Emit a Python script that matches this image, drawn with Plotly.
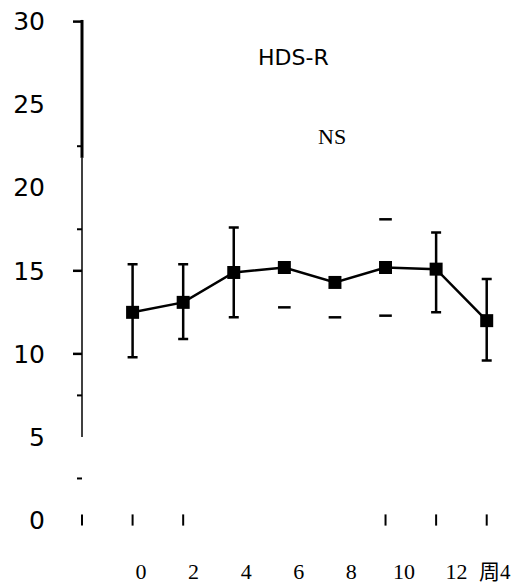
import plotly.graph_objects as go

# ---- data ----
weeks = [0, 2, 4, 6, 8, 10, 12, 14]
mean_score = [12.5, 13.1, 14.9, 15.2, 14.3, 15.2, 15.1, 12.0]
upper_sd = [15.4, 15.4, 17.6, 17.6, 16.4, 18.1, 17.3, 14.5]
lower_sd = [9.8, 10.9, 12.2, 12.8, 12.2, 12.3, 12.5, 9.6]
# which error bars survive as full bars in the scanned figure
full_bar = [True, True, True, False, False, False, True, True]
# which isolated whisker caps are visible for the faded bars
upper_cap_visible = [False, False, False, False, False, True, False, False]
lower_cap_visible = [False, False, False, True, True, True, False, False]

# tick labels as printed ("周" overprints the "1" of 14)
x_tick_labels = ["0", "2", "4", "6", "8", "10", "12", "周4"]
y_tick_vals = [0, 5, 10, 15, 20, 25, 30]
x_tick_marks = [-2, 0, 2, 10, 12, 14]
y_axis_ticks_long = [30, 15, 10]
y_axis_ticks_short = [22.5, 17.5, 7.5, 2.5]

title_text = "HDS-R"
sig_text = "NS"

fig = go.Figure()

# full error bars
fx = [w for w, f in zip(weeks, full_bar) if f]
fy = [m for m, f in zip(mean_score, full_bar) if f]
fu = [u - m for u, m, f in zip(upper_sd, mean_score, full_bar) if f]
fl = [m - l for l, m, f in zip(lower_sd, mean_score, full_bar) if f]
fig.add_trace(go.Scatter(
    x=fx, y=fy, mode="markers",
    marker=dict(size=1, color="rgba(0,0,0,0)"),
    error_y=dict(type="data", symmetric=False, array=fu, arrayminus=fl,
                 color="black", thickness=2.5, width=5),
    showlegend=False, hoverinfo="skip"))

# isolated caps
cx = [w for w, v in zip(weeks, upper_cap_visible) if v] + [w for w, v in zip(weeks, lower_cap_visible) if v]
cy = [u for u, v in zip(upper_sd, upper_cap_visible) if v] + [l for l, v in zip(lower_sd, lower_cap_visible) if v]
fig.add_trace(go.Scatter(
    x=cx, y=cy, mode="markers",
    marker=dict(symbol="line-ew", size=9, line=dict(color="black", width=2.5)),
    showlegend=False, hoverinfo="skip"))

# mean line
fig.add_trace(go.Scatter(
    x=weeks, y=mean_score, mode="lines+markers",
    line=dict(color="black", width=2.5),
    marker=dict(symbol="square", size=13, color="black"),
    showlegend=False))

# small x-axis tick marks at baseline
fig.add_trace(go.Scatter(
    x=x_tick_marks, y=[0] * len(x_tick_marks), mode="markers",
    marker=dict(symbol="line-ns", size=8, line=dict(color="black", width=2)),
    cliponaxis=False, showlegend=False, hoverinfo="skip"))

# tick-label axis
fig.add_trace(go.Scatter(x=weeks, y=mean_score, xaxis="x2", mode="markers",
                         marker=dict(size=1, color="rgba(0,0,0,0)"),
                         showlegend=False, hoverinfo="skip"))

shapes = []
# y axis line (thick top part, thin lower part)
shapes.append(dict(type="line", xref="paper", yref="y", x0=0, x1=0, y0=21.8, y1=30.1,
                   line=dict(color="black", width=3)))
shapes.append(dict(type="line", xref="paper", yref="y", x0=0, x1=0, y0=5, y1=21.8,
                   line=dict(color="black", width=1.5)))
for v in y_axis_ticks_long:
    shapes.append(dict(type="line", xref="paper", yref="y", xsizemode="pixel", xanchor=0,
                       x0=-9, x1=0, y0=v, y1=v, line=dict(color="black", width=2.5)))
for v in y_axis_ticks_short:
    shapes.append(dict(type="line", xref="paper", yref="y", xsizemode="pixel", xanchor=0,
                       x0=-5, x1=0, y0=v, y1=v, line=dict(color="black", width=2)))

annotations = [
    dict(text=title_text, xref="paper", yref="paper", x=0.491, y=0.899,
         xanchor="center", yanchor="middle",
         showarrow=False, font=dict(family="DejaVu Sans", size=22, color="black")),
    dict(text=sig_text, xref="paper", yref="paper", x=0.581, y=0.744,
         xanchor="center", yanchor="middle",
         showarrow=False, font=dict(family="Liberation Serif", size=22, color="black")),
    # last tick label drawn separately so it stays inside the page
    dict(text=x_tick_labels[-1], xref="x2", yref="paper", x=weeks[-1], y=0, yshift=-52,
         xshift=4, xanchor="right", yanchor="middle", showarrow=False,
         font=dict(family="Liberation Serif, Noto Sans CJK SC", size=21, color="black")),
]

fig.update_layout(
    width=516, height=584,
    margin=dict(l=82, r=4, t=5, b=64),
    paper_bgcolor="white", plot_bgcolor="white",
    shapes=shapes, annotations=annotations,
    xaxis=dict(range=[-2, 15], showline=False, ticks="", showticklabels=False,
               showgrid=False, zeroline=False),
    xaxis2=dict(overlaying="x", anchor="y", side="bottom", range=[-2.244, 14.11],
                tickmode="array", tickvals=weeks[:-1], ticktext=x_tick_labels[:-1],
                showline=False, ticks="", showgrid=False, zeroline=False,
                ticklabelstandoff=36, automargin=False,
                tickfont=dict(family="Liberation Serif", size=22, color="black")),
    yaxis=dict(range=[0, 31], tickmode="array", tickvals=y_tick_vals,
               showline=False, ticks="", showgrid=False, zeroline=False,
               ticklabelstandoff=36, automargin=False,
               tickfont=dict(family="DejaVu Sans", size=25, color="black")),
)

fig.write_html("out.html")
